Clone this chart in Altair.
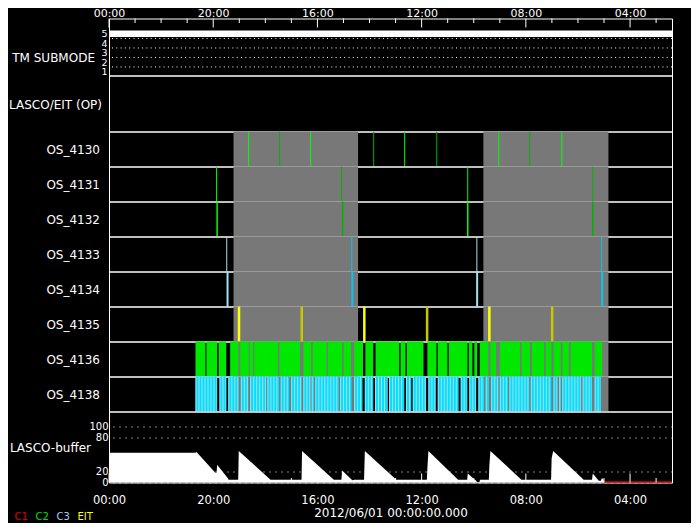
import altair as alt
import pandas as pd

FONT = "DejaVu Sans"

# ---------------- data (hour of day; 24 = 00:00, time runs right-to-left) ----------------
time_start, time_end = 24.0, 2.39
major_ticks = [24, 20, 16, 12, 8, 4]
minor_ticks = [23, 22, 21, 19, 18, 17, 15, 14, 13, 11, 10, 9, 7, 6, 5, 3]

submode_hours = [24.0, 2.39]
submode_values = [5, 5]
submode_ticks = [1, 2, 3, 4, 5]
submode_grid = [1.5, 2.5, 3.5, 4.5]

shade_start = [19.22, 9.63]
shade_end = [14.44, 4.83]

os4130_hours = [18.64, 17.45, 16.26, 13.84, 12.65, 11.42, 9.04, 7.85, 6.62]
os4130_type = ["a", "b", "a", "b", "a", "b", "a", "b", "a"]
os4131_hours = [19.87, 15.07, 10.23, 5.43]
os4131_type = ["a", "b", "a", "b"]
os4132_hours = [19.85, 15.03, 10.23, 5.43]
os4132_type = ["a", "b", "a", "b"]
os4133_hours = [19.48, 14.68, 9.88, 5.09]
os4133_type = ["a", "b", "a", "b"]
os4134_hours = [19.45, 14.66, 9.87, 5.07]
os4134_type = ["a", "b", "a", "b"]
os4135_hours = [19.01, 16.60, 14.20, 11.79, 9.40, 6.99]
os4135_type = ["a", "b", "a", "b", "a", "b"]

os4136_start = [20.68, 20.26, 19.79, 19.35, 18.96, 18.60, 18.42, 17.46, 16.54, 16.18, 15.60,
                14.99, 14.59, 14.16, 13.77, 12.81, 12.57, 11.78, 11.38, 10.96, 10.19, 9.98,
                9.77, 9.36, 9.00, 8.16, 7.77, 7.24, 6.94, 6.60, 6.28, 5.36]
os4136_end = [20.30, 19.85, 19.50, 19.03, 18.64, 18.47, 17.52, 16.67, 16.24, 15.65, 15.05,
              14.71, 14.25, 13.86, 12.86, 12.62, 11.93, 11.43, 11.01, 10.24, 10.05, 9.87,
              9.44, 9.14, 8.22, 7.84, 7.30, 7.02, 6.66, 6.35, 5.46, 5.07]

os4138_start = [20.68, 19.76, 19.42, 18.94, 18.58, 17.92, 17.41, 17.01, 16.54, 16.22, 16.08,
                15.13, 14.59, 14.18, 13.79, 13.25, 12.60, 12.34, 11.74, 11.38, 10.50, 10.17,
                9.82, 9.54, 9.33, 9.00, 8.63, 7.81, 6.94, 6.72, 6.60, 5.82, 5.36]
os4138_end = [19.85, 19.50, 19.03, 18.65, 17.97, 17.47, 17.08, 16.61, 16.27, 16.13, 15.18,
              14.69, 14.27, 13.86, 13.31, 12.67, 12.40, 11.83, 11.46, 10.58, 10.25, 9.91,
              9.60, 9.42, 9.06, 8.68, 7.87, 7.02, 6.79, 6.65, 5.88, 5.46, 5.12]

buffer_hours = [24.0, 20.68, 20.64, 19.92, 19.87, 19.85, 19.43, 19.41, 19.04, 19.02, 17.80,
                16.61, 16.59, 15.37, 15.08, 15.05, 14.66, 14.58, 14.21, 14.18, 12.97, 11.80,
                11.78, 11.74, 10.60, 10.25, 10.23, 9.91, 9.87, 9.78, 9.76, 9.42, 9.40, 9.36,
                8.17, 7.03, 7.01, 6.95, 5.78, 5.46, 5.43, 5.20, 5.12, 5.08, 5.01, 5.00]
buffer_values = [52.8, 52.8, 54.2, 17.4, 17.4, 31.7, 7.2, 5, 5, 56.2, 5, 5, 56.2, 5, 5, 21.5, 4,
                 5, 5, 56.2, 5, 5, 24.5, 56.2, 5, 5, 16, 3, 1, 1, 5, 5, 30.7, 56.2, 5, 5, 43,
                 56.2, 5, 5, 16, 3, 3, 8.2, 5, 0]
buffer_ticks = [0, 20, 80, 100]

c1_hours = [5.00, 2.39]
c1_values = [1, 1]

legend_names = ["C1", "C2", "C3", "EIT"]
legend_colors = ["#e00000", "#00e000", "#a0d0f0", "#ffff00"]

# ---------------- styling ----------------
W = 563
GREEN = ["#00ff00", "#00b400"]
CYAN = ["#a0e0f0", "#00c8f0"]
YELLOW = ["#ffff00", "#c8c800"]
SHADE = "#787878"
LABEL_EXPR = "(datum.value % 24 < 10 ? '0' : '') + (datum.value % 24) + ':00'"


def xscale():
    return alt.Scale(domain=[time_end, time_start], reverse=True, nice=False, zero=False)


def xenc(field, axis=None):
    return alt.X(f"{field}:Q", scale=xscale(), axis=axis)


def row_label(name, dx, dy):
    return alt.Chart(pd.DataFrame({"t": [name]})).mark_text(
        align="right", baseline="middle", color="white", fontSize=12, font=FONT
    ).encode(text="t:N", x=alt.value(dx), y=alt.value(dy))


def tick_rules(y_base, major_len, minor_len):
    sign = 1 if y_base == 0 else -1
    major = alt.Chart(pd.DataFrame({"h": major_ticks})).mark_rule(color="white", strokeWidth=1).encode(
        x=xenc("h"), y=alt.value(y_base), y2=alt.value(y_base + sign * major_len))
    minor = alt.Chart(pd.DataFrame({"h": minor_ticks})).mark_rule(color="white", strokeWidth=1).encode(
        x=xenc("h"), y=alt.value(y_base), y2=alt.value(y_base + sign * minor_len))
    return [major, minor]


def shade_layer():
    df = pd.DataFrame({"s": shade_start, "e": shade_end})
    return alt.Chart(df).mark_rect(color=SHADE).encode(x=xenc("s"), x2="e:Q")


# ---- TM SUBMODE ----
top_axis = alt.Axis(orient="top", values=major_ticks, labelExpr=LABEL_EXPR, ticks=False, domain=False,
                    grid=False, labelFontSize=11, labelPadding=0, labelFlush=False, labelOverlap=False,
                    title=None)
tm_scale = alt.Scale(domain=[0.6, 6.6], nice=False, zero=False)
tm_line = alt.Chart(pd.DataFrame({"h": submode_hours, "v": submode_values})).mark_line(
    color="white", strokeWidth=6.5, strokeCap="butt").encode(
    x=xenc("h", top_axis),
    y=alt.Y("v:Q", scale=tm_scale, axis=alt.Axis(values=submode_ticks, ticks=False, domain=False, grid=False,
                                                  labelFontSize=9.5, labelPadding=2, labelOverlap=False,
                                                  labelBound=False, title=None)))
tm_grid = alt.Chart(pd.DataFrame({"g": submode_grid})).mark_rule(
    color="white", strokeDash=[1, 3.3], strokeWidth=1).encode(y=alt.Y("g:Q", scale=tm_scale, axis=None))
tm_panel = alt.layer(tm_grid, tm_line, *tick_rules(0, 9, 4.5), row_label("TM SUBMODE", -14, 39)).resolve_axis(
    x="independent", y="independent").properties(width=W, height=57)

# ---- LASCO/EIT (OP) ----
op_panel = alt.layer(row_label("LASCO/EIT (OP)", -7, 29)).properties(width=W, height=56)


def os_line_panel(name, hours, types, colors, sw):
    df = pd.DataFrame({"h": hours, "k": types})
    lines = alt.Chart(df).mark_rule(strokeWidth=sw).encode(
        x=xenc("h"),
        color=alt.Color("k:N", scale=alt.Scale(domain=["a", "b"], range=colors), legend=None))
    return alt.layer(shade_layer(), lines, row_label(name, -9, 18)).properties(width=W, height=35)


def os_seg_panel(name, starts, ends, color, stripe=None):
    df = pd.DataFrame({"s": starts, "e": ends})
    layers = [shade_layer(), alt.Chart(df).mark_rect(color=color).encode(x=xenc("s"), x2="e:Q")]
    if stripe:
        layers.append(alt.Chart(df).mark_rule(color=stripe, strokeWidth=35, strokeDash=[1, 2]).encode(
            x=xenc("s"), x2="e:Q", y=alt.value(17.5)))
    layers.append(row_label(name, -9, 18))
    return alt.layer(*layers).properties(width=W, height=35)


p4130 = os_line_panel("OS_4130", os4130_hours, os4130_type, GREEN, 1)
p4131 = os_line_panel("OS_4131", os4131_hours, os4131_type, GREEN, 1)
p4132 = os_line_panel("OS_4132", os4132_hours, os4132_type, GREEN, 1.5)
p4133 = os_line_panel("OS_4133", os4133_hours, os4133_type, CYAN, 1)
p4134 = os_line_panel("OS_4134", os4134_hours, os4134_type, CYAN, 2)
p4135 = os_line_panel("OS_4135", os4135_hours, os4135_type, YELLOW, 2.5)
p4136 = os_seg_panel("OS_4136", os4136_start, os4136_end, "#00e800")
p4138 = os_seg_panel("OS_4138", os4138_start, os4138_end, "#00e0ff", stripe="#a8dcea")

# ---- LASCO-buffer ----
bottom_axis = alt.Axis(orient="bottom", values=major_ticks, labelExpr=LABEL_EXPR, ticks=False, domain=False,
                       grid=False, labelFontSize=11.5, labelPadding=11.5, labelFlush=False, labelOverlap=False,
                       title="2012/06/01 00:00:00.000", titleFontSize=12, titleFontWeight="normal",
                       titlePadding=2, titleColor="white")
buf_scale = alt.Scale(domain=[0, 126.2], nice=False, zero=False)
buf_axis = alt.Axis(values=buffer_ticks, ticks=False, domain=False, grid=True, gridDash=[1, 5],
                    gridColor="white", gridOpacity=1, labelFontSize=10, labelPadding=1, labelOverlap=False,
                    labelBound=False, labelFlush=False, title=None)
buf_area = alt.Chart(pd.DataFrame({"h": buffer_hours, "v": buffer_values})).mark_area(
    color="white", opacity=1).encode(x=xenc("h", bottom_axis), y=alt.Y("v:Q", scale=buf_scale, axis=buf_axis))
c1_line = alt.Chart(pd.DataFrame({"h": c1_hours, "v": c1_values})).mark_line(
    color=legend_colors[0], strokeWidth=1.5).encode(x=xenc("h"), y=alt.Y("v:Q", scale=buf_scale, axis=None))
legend = alt.Chart(pd.DataFrame({"n": legend_names})).mark_text(
    align="left", baseline="middle", fontSize=10, font=FONT).encode(
    x=alt.X("n:N", scale=alt.Scale(domain=legend_names, range=[-94.6, -31.6], padding=0), axis=None),
    y=alt.value(105),
    color=alt.Color("n:N", scale=alt.Scale(domain=legend_names, range=legend_colors), legend=None),
    text="n:N")
buf_panel = alt.layer(buf_area, c1_line, *tick_rules(71, 9, 4.5), row_label("LASCO-buffer", -18, 36),
                      legend).resolve_scale(x="independent").resolve_axis(
    x="independent", y="independent").properties(width=W, height=71)

chart = alt.vconcat(tm_panel, op_panel, p4130, p4131, p4132, p4133, p4134, p4135, p4136, p4138, buf_panel,
                    spacing=0, bounds="flush").resolve_scale(color="independent", x="independent").properties(
    background="black", padding={"left": 0, "top": -1.5, "right": 5, "bottom": 0}
).configure_view(stroke="white", strokeWidth=1).configure_axis(
    labelColor="white", titleColor="white", labelFont=FONT, titleFont=FONT)

chart.save("out.html", embed_options={"renderer": "svg", "actions": False})
